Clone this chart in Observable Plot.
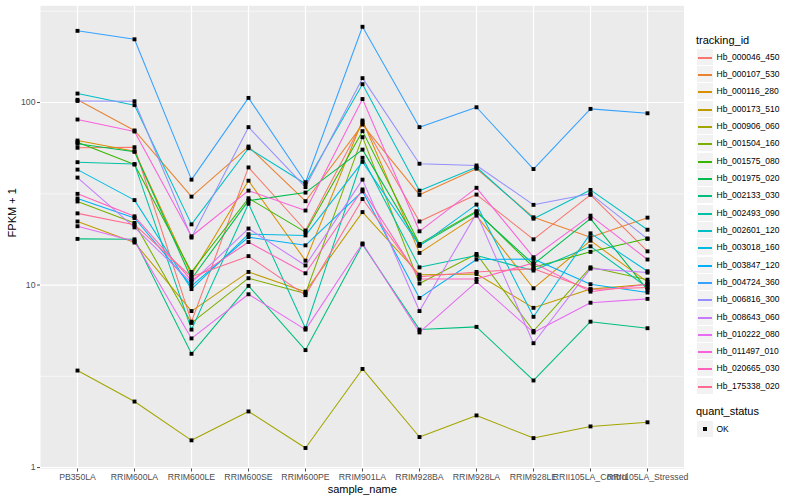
<!DOCTYPE html>
<html>
<head>
<meta charset="utf-8">
<script src="https://cdn.jsdelivr.net/npm/d3@7"></script>
<script src="https://cdn.jsdelivr.net/npm/@observablehq/plot@0.6"></script>
<style>
  body { margin: 0; background: white; }
  #wrap { position: relative; width: 800px; height: 500px; font-family: "Liberation Sans", Arial, Helvetica, sans-serif; }
  #wrap svg { position: absolute; left: 0; top: 0; }
  .lg { position: absolute; white-space: nowrap; }
</style>
</head>
<body>
<div id="wrap"></div>
<script>
const samples = ["PB350LA","RRIM600LA","RRIM600LE","RRIM600SE","RRIM600PE","RRIM901LA","RRIM928BA","RRIM928LA","RRIM928LE","RRII105LA_Control","RRII105LA_Stressed"];
const trackingIds = ["Hb_000046_450","Hb_000107_530","Hb_000116_280","Hb_000173_510","Hb_000906_060","Hb_001504_160","Hb_001575_080","Hb_001975_020","Hb_002133_030","Hb_002493_090","Hb_002601_120","Hb_003018_160","Hb_003847_120","Hb_004724_360","Hb_006816_300","Hb_008643_060","Hb_010222_080","Hb_011497_010","Hb_020665_030","Hb_175338_020"];
const colors = ["#F8766D","#EA8331","#D89000","#C09B00","#A3A500","#7CAE00","#39B600","#00BB4E","#00BF7D","#00C1A3","#00BFC4","#00BAE0","#00B0F6","#35A2FF","#9590FF","#C77CFF","#E76BF3","#FA62DB","#FF62BC","#FF6C91"];

// FPKM + 1 per sample (same order as samples)
const hb_000046_450 = [56.5, 56.9, 6.3, 44.1, 19.9, 78.0, 22.3, 31.3, 17.8, 31.2, 15.3];
const hb_000107_530 = [103.5, 70.3, 30.5, 57.4, 28.8, 75.7, 31.2, 43.4, 23.5, 18.3, 23.4];
const hb_000116_280 = [61.9, 54.1, 11.4, 37.3, 13.6, 79.7, 15.0, 24.0, 9.6, 17.5, 10.4];
const hb_000173_510 = [22.3, 17.1, 7.2, 11.8, 9.2, 25.1, 11.4, 11.5, 7.5, 9.5, 10.1];
const hb_000906_060 = [3.40, 2.30, 1.41, 2.03, 1.28, 3.47, 1.47, 1.93, 1.45, 1.68, 1.77];
const hb_001504_160 = [28.7, 21.9, 6.2, 10.9, 9.0, 64.6, 10.2, 14.8, 5.6, 12.5, 10.7];
const hb_001575_080 = [60.6, 45.7, 11.8, 29.9, 19.5, 69.7, 16.8, 25.4, 12.5, 15.2, 18.0];
const hb_001975_020 = [59.4, 53.7, 10.8, 29.0, 32.1, 55.2, 16.5, 25.1, 13.0, 23.1, 9.4];
const hb_002133_030 = [17.9, 17.8, 4.2, 9.9, 4.4, 16.7, 5.7, 5.9, 3.0, 6.3, 5.8];
const hb_002493_090 = [47.1, 46.0, 5.7, 27.9, 5.8, 49.8, 12.5, 14.5, 12.0, 16.3, 9.7];
const hb_002601_120 = [112, 96.7, 21.5, 56.2, 35.9, 126, 32.9, 44.2, 23.1, 33.2, 20.1];
const hb_003018_160 = [42.9, 29.2, 9.5, 19.0, 18.7, 47.3, 16.4, 27.6, 6.7, 19.2, 11.9];
const hb_003847_120 = [29.8, 23.3, 9.9, 18.3, 16.5, 32.6, 8.5, 13.8, 13.9, 10.1, 9.1];
const hb_004724_360 = [247, 222, 37.8, 106, 36.6, 260, 73.3, 94.2, 43.2, 92.3, 87.3];
const hb_006816_300 = [102, 101.6, 18.2, 73.3, 34.4, 136, 46.2, 45.2, 27.5, 31.6, 17.9];
const hb_008643_060 = [38.8, 20.7, 10.3, 20.4, 12.8, 37.8, 7.2, 24.7, 4.8, 12.3, 11.7];
const hb_010222_080 = [21.0, 17.4, 5.1, 8.9, 5.7, 16.9, 5.5, 10.4, 5.5, 8.0, 8.4];
const hb_011497_010 = [80.7, 69.4, 18.5, 32.9, 25.6, 104.5, 19.7, 34.1, 14.2, 24.0, 13.8];
const hb_020665_030 = [31.6, 23.8, 10.6, 17.2, 11.6, 33.4, 10.8, 10.8, 13.2, 9.2, 10.1];
const hb_175338_020 = [24.7, 21.4, 11.1, 14.4, 8.8, 29.6, 11.1, 11.8, 12.3, 9.45, 9.7];

const yTicks = [1, 10, 100];
const yMinor = [3.1623, 31.623, 316.23];

const seriesValues = [hb_000046_450, hb_000107_530, hb_000116_280, hb_000173_510, hb_000906_060,
  hb_001504_160, hb_001575_080, hb_001975_020, hb_002133_030, hb_002493_090, hb_002601_120,
  hb_003018_160, hb_003847_120, hb_004724_360, hb_006816_300, hb_008643_060, hb_010222_080,
  hb_011497_010, hb_020665_030, hb_175338_020];

const data = trackingIds.flatMap((id, i) =>
  seriesValues[i].map((v, j) => ({id, sample: samples[j], value: v})));

const chart = Plot.plot({
  width: 800,
  height: 500,
  marginLeft: 40,
  marginRight: 116.5,
  marginTop: 5.3,
  marginBottom: 31.5,
  style: {fontFamily: "'Liberation Sans', Arial, Helvetica, sans-serif", background: "transparent", overflow: "visible"},
  x: {type: "point", domain: samples, padding: 0.6, label: null},
  y: {type: "log", domain: [0.982, 338.8], label: null},
  color: {domain: trackingIds, range: colors},
  marks: [
    Plot.frame({fill: "#EBEBEB", stroke: null}),
    Plot.ruleY(yMinor, {stroke: "white", strokeWidth: 0.6}),
    Plot.ruleY(yTicks, {stroke: "white", strokeWidth: 1.2}),
    Plot.ruleX(samples, {stroke: "white", strokeWidth: 1.2}),
    Plot.line(data, {x: "sample", y: "value", z: "id", stroke: "id", strokeWidth: 1.05}),
    Plot.dot(data, {x: "sample", y: "value", symbol: "square", r: 2.2, fill: "black", stroke: null}),
    Plot.axisY({ticks: yTicks, tickFormat: d => String(d), tickSize: 3, tickPadding: 2, fontSize: 8.7, color: "#4D4D4D", label: null}),
    Plot.axisX({tickSize: 3, tickPadding: 1.5, fontSize: 8.7, color: "#4D4D4D", label: null}),
    Plot.text(["FPKM + 1"], {frameAnchor: "left", dx: -28, rotate: -90, fontSize: 11, fill: "black"}),
    Plot.text(["sample_name"], {frameAnchor: "bottom", dy: 23.5, fontSize: 11, fill: "black"})
  ]
});

const wrap = document.getElementById("wrap");
wrap.appendChild(chart);

function addDiv(text, left, top, size, extra) {
  const d = document.createElement("div");
  d.className = "lg";
  d.textContent = text;
  d.style.left = left + "px";
  d.style.top = top + "px";
  d.style.fontSize = size + "px";
  d.style.lineHeight = size + "px";
  if (extra) Object.assign(d.style, extra);
  wrap.appendChild(d);
  return d;
}
function addBox(left, top, w, h, bg) {
  const d = document.createElement("div");
  d.className = "lg";
  Object.assign(d.style, {left: left + "px", top: top + "px", width: w + "px", height: h + "px", background: bg});
  wrap.appendChild(d);
  return d;
}

addDiv("tracking_id", 696, 35, 11, {color: "black"});
trackingIds.forEach((id, i) => {
  const cy = Math.round(56.7 + 17.32 * i);
  addBox(697, cy - 8, 16, 16, "#F2F2F2");
  addBox(698, cy, 14, 1.5, colors[i]);
  addDiv(id, 716.5, cy - 4, 8.5, {color: "black"});
});
addDiv("quant_status", 696, 406, 11, {color: "black"});
addBox(697, 429 - 8, 16, 16, "#F2F2F2");
addBox(703, 427, 4, 4, "black");
addDiv("OK", 716.5, 429 - 4, 8.5, {color: "black"});
</script>
</body>
</html>
